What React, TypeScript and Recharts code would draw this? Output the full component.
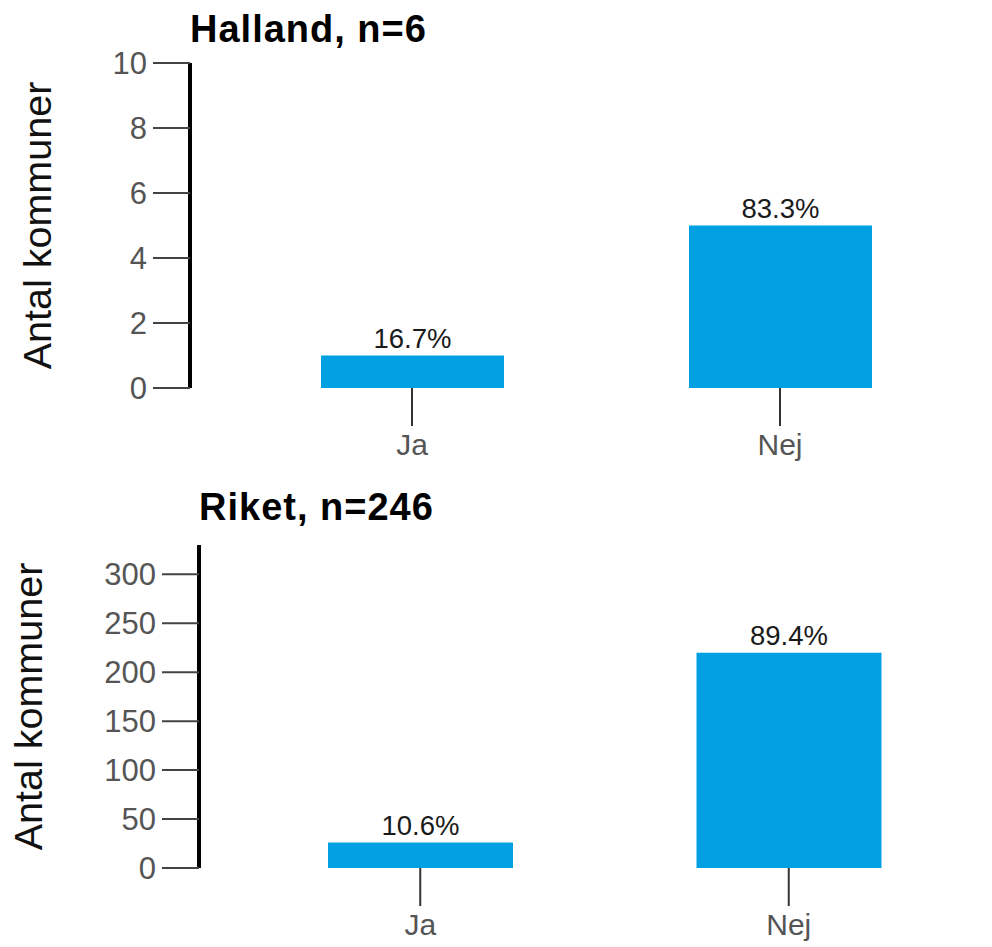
import React from 'react';
import { BarChart, Bar, XAxis, YAxis, LabelList } from 'recharts';

const categories = ['Ja', 'Nej'];
const hallandValues = [1, 5];
const hallandPercent = ['16.7%', '83.3%'];
const riketValues = [26, 220];
const riketPercent = ['10.6%', '89.4%'];
const hallandTicks = [0, 2, 4, 6, 8, 10];
const riketTicks = [0, 50, 100, 150, 200, 250, 300];
const hallandTitle = 'Halland, n=6';
const riketTitle = 'Riket, n=246';
const yAxisTitle = 'Antal kommuner';

const FONT = '"Liberation Sans", Arial, Helvetica, sans-serif';
const BAR_COLOR = '#00A0E3';

function buildRows(values: number[], pct: string[]) {
  return categories.map((c, i) => ({ category: c, value: values[i], pct: pct[i] }));
}

type PanelProps = {
  title: string;
  rows: { category: string; value: number; pct: string }[];
  ticks: number[];
  domain: [number, number];
  top: number;
  height: number;
  marginTop: number;
  plotHeight: number;
  yAxisWidth: number;
  marginRight: number;
  padLeft: number;
  barSize: number;
  labelBaselineX: number;
  titleLeft: number;
  titleTop: number;
};

const renderValueLabel = (props: any) => {
  const { x, y, width, value } = props;
  const cx = Number(x) + Number(width) / 2;
  const by = Number(y) - 8;
  return (
    <text x={cx} y={by} textAnchor="middle" fontSize={27.5} fontFamily={FONT} fill="#1a1a1a">
      {value}
    </text>
  );
};

function Panel(p: PanelProps) {
  const xAxisHeight = p.height - p.marginTop - p.plotHeight;
  const renderYLabel = (props: any) => {
    const vb = props.viewBox || {};
    const cx = (vb.x || 0) + p.labelBaselineX;
    const cy = (vb.y || 0) + (vb.height || 0) / 2;
    return (
      <text
        x={cx}
        y={cy}
        transform={`rotate(-90, ${cx}, ${cy})`}
        textAnchor="middle"
        fontSize={39.5}
        fontFamily={FONT}
        fill="#111"
      >
        {yAxisTitle}
      </text>
    );
  };
  return (
    <div style={{ position: 'absolute', left: 0, top: p.top, width: 992, height: p.height }}>
      <BarChart
        width={992}
        height={p.height}
        data={p.rows}
        margin={{ top: p.marginTop, right: p.marginRight, bottom: 0, left: 0 }}
        barCategoryGap={0}
      >
        <XAxis
          dataKey="category"
          axisLine={false}
          tickLine={{ stroke: '#333', strokeWidth: 2 }}
          tickSize={38}
          tickMargin={8}
          tick={{ fill: '#555', fontSize: 30, fontFamily: FONT }}
          height={xAxisHeight}
          padding={{ left: p.padLeft, right: 0 }}
          interval={0}
        />
        <YAxis
          type="number"
          width={p.yAxisWidth}
          domain={p.domain}
          ticks={p.ticks}
          interval={0}
          axisLine={{ stroke: '#000', strokeWidth: 4 }}
          tickLine={{ stroke: '#444', strokeWidth: 2 }}
          tickSize={37}
          tickMargin={6}
          tick={{ fill: '#555', fontSize: 31, fontFamily: FONT }}
          label={renderYLabel}
        />
        <Bar dataKey="value" fill={BAR_COLOR} barSize={p.barSize} isAnimationActive={false}>
          <LabelList dataKey="pct" content={renderValueLabel} />
        </Bar>
      </BarChart>
      <div
        style={{
          position: 'absolute',
          left: p.titleLeft,
          top: p.titleTop,
          fontFamily: FONT,
          fontWeight: 'bold',
          fontSize: 38,
          letterSpacing: 1,
          lineHeight: '38px',
          whiteSpace: 'nowrap',
          color: '#000',
        }}
      >
        {p.title}
      </div>
    </div>
  );
}

export default function App() {
  return (
    <div style={{ position: 'absolute', left: 0, top: 0, width: 992, height: 947, background: '#fff', overflow: 'hidden' }}>
      <Panel
        title={hallandTitle}
        rows={buildRows(hallandValues, hallandPercent)}
        ticks={hallandTicks}
        domain={[0, 10]}
        top={0}
        height={470}
        marginTop={63}
        plotHeight={325}
        yAxisWidth={190}
        marginRight={28}
        padLeft={38}
        barSize={183}
        labelBaselineX={51}
        titleLeft={190}
        titleTop={10}
      />
      <Panel
        title={riketTitle}
        rows={buildRows(riketValues, riketPercent)}
        ticks={riketTicks}
        domain={[0, 330]}
        top={480}
        height={467}
        marginTop={65}
        plotHeight={323}
        yAxisWidth={199}
        marginRight={19}
        padLeft={37}
        barSize={185}
        labelBaselineX={42}
        titleLeft={199}
        titleTop={8}
      />
    </div>
  );
}
